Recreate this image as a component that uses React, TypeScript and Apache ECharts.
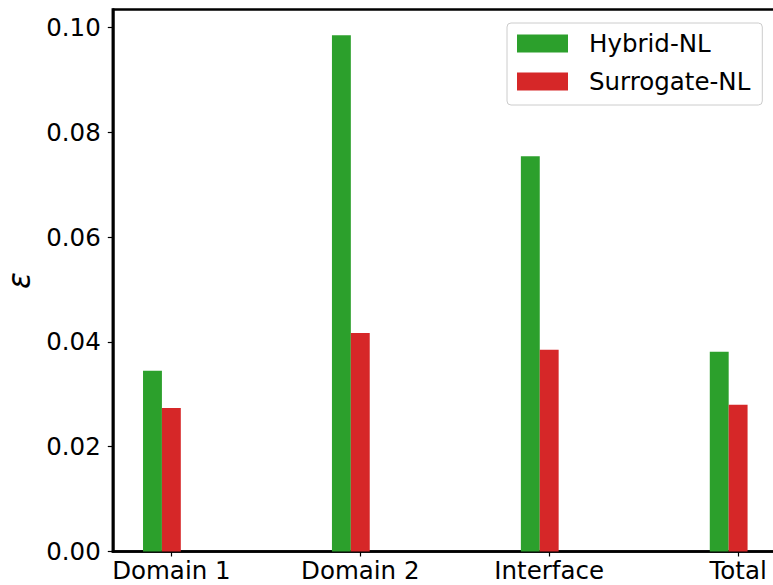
import React, { useEffect, useRef } from "react";
import * as echarts from "echarts";

const categories = ["Domain 1", "Domain 2", "Interface", "Total"];
const hybridNL = [0.0345, 0.0985, 0.0754, 0.0381];
const surrogateNL = [0.0274, 0.0417, 0.0385, 0.028];
const yTicks = [0, 0.02, 0.04, 0.06, 0.08, 0.1];
const catPositions = [0, 1, 2, 3];

const FONT = "DejaVu Sans";

export default function App() {
  const ref = useRef<HTMLDivElement>(null);
  useEffect(() => {
    if (!ref.current) return;
    const chart = echarts.init(ref.current, undefined, { renderer: "svg" });
    const xMin = -0.31;
    const xMax = 3.21;
    const gridWidth = 665;
    const pxPerUnit = gridWidth / (xMax - xMin);
    const barW = 0.1 * pxPerUnit;
    const ymax = 0.0985 * 1.05;
    chart.setOption({
      animation: false,
      backgroundColor: "#fff",
      textStyle: { fontFamily: FONT },
      grid: {
        left: 112.8,
        top: 9.5,
        width: gridWidth,
        height: 542,
        show: true,
        borderColor: "#000",
        borderWidth: 2.5,
        containLabel: false,
        outerBoundsMode: "none",
      },
      legend: {
        orient: "vertical",
        left: 507,
        top: 23,
        padding: [8, 12, 11, 10],
        itemWidth: 51,
        itemHeight: 18,
        itemGap: 13,
        icon: "rect",
        backgroundColor: "rgba(255,255,255,0.8)",
        borderColor: "#cccccc",
        borderWidth: 1,
        borderRadius: 4,
        textStyle: {
          fontFamily: FONT,
          fontSize: 24.5,
          lineHeight: 24,
          color: "#000",
          padding: [0, 0, 0, 16],
        },
        data: ["Hybrid-NL", "Surrogate-NL"],
      },
      xAxis: {
        type: "value",
        min: xMin,
        max: xMax,
        splitLine: { show: false },
        axisLine: { show: true, onZero: false, lineStyle: { color: "#000", width: 2.5 } },
        axisTick: {
          show: true,
          length: 5,
          lineStyle: { color: "#000", width: 1.2 },
          customValues: catPositions,
        },
        axisLabel: {
          color: "#000",
          fontFamily: FONT,
          fontSize: 24.5,
          margin: 6,
          customValues: catPositions,
          formatter: (v: number) => categories[Math.round(v)] ?? "",
        },
      },
      yAxis: {
        type: "value",
        min: 0,
        max: ymax,
        name: "ε",
        nameLocation: "middle",
        nameRotate: 90,
        nameGap: 78,
        nameTextStyle: { fontFamily: FONT, fontSize: 31, fontStyle: "italic", color: "#000" },
        splitLine: { show: false },
        axisLine: { show: true, onZero: false, lineStyle: { color: "#000", width: 2.5 } },
        axisTick: {
          show: true,
          length: 5,
          lineStyle: { color: "#000", width: 1.2 },
          customValues: yTicks,
        },
        axisLabel: {
          color: "#000",
          fontFamily: FONT,
          fontSize: 24.5,
          margin: 12,
          customValues: yTicks,
          formatter: (v: number) => v.toFixed(2),
        },
      },
      series: [
        {
          name: "Hybrid-NL",
          type: "bar",
          barWidth: barW,
          barGap: "0%",
          itemStyle: { color: "#2ca02c" },
          data: hybridNL.map((v, i) => [catPositions[i] - 0.05, v]),
        },
        {
          name: "Surrogate-NL",
          type: "bar",
          barWidth: barW,
          barGap: "0%",
          itemStyle: { color: "#d62728" },
          data: surrogateNL.map((v, i) => [catPositions[i] - 0.05, v]),
        },
      ],
    });
    return () => chart.dispose();
  }, []);
  return (
    <div
      ref={ref}
      style={{ position: "fixed", left: 0, top: 0, width: 773, height: 585 }}
    />
  );
}
